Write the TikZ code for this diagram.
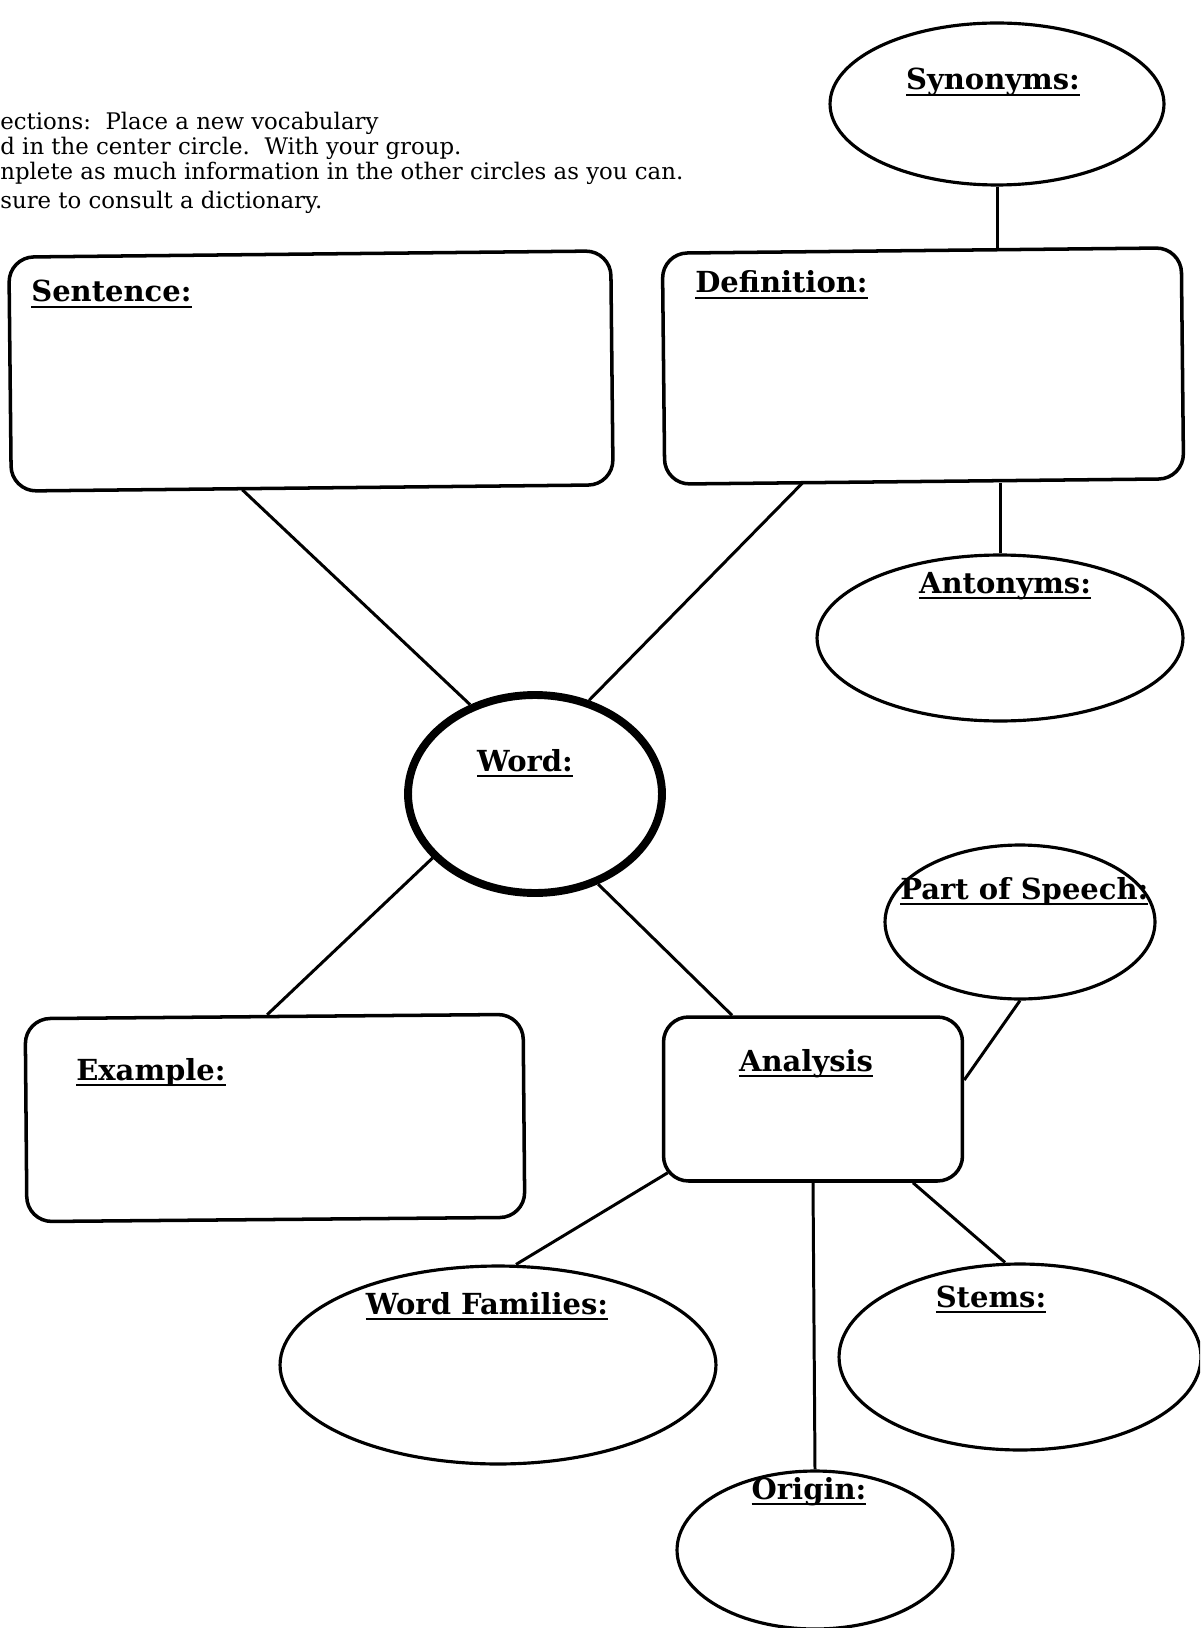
\documentclass[tikz,border=0pt]{standalone}
\usepackage{fontspec}
\setmainfont{DejaVu Serif}
\usetikzlibrary{shapes.geometric,calc}
\newlength\ulw
\newcommand\lab[1]{\settowidth\ulw{#1}\rlap{\rule[-3.6pt]{\ulw}{1.3pt}}#1}
\tikzset{
 bubble/.style={ellipse, draw, line width=1.8pt, inner sep=0pt},
 card/.style={rectangle, draw, line width=2pt, rounded corners=0.5cm, inner sep=0pt},
 link/.style={line width=1.7pt},
 lbl/.style={inner sep=0pt, font=\bfseries\fontsize{16.5}{18}\selectfont, anchor=base},
 instr/.style={inner sep=0pt, anchor=base west, font=\fontsize{13}{15}\selectfont}
}
\begin{document}
\begin{tikzpicture}[x=0.02cm,y=-0.02cm]
\useasboundingbox (0,0) rectangle (1200,1628);
\fill[white] (0,0) rectangle (1200,1628);
\clip (0,0) rectangle (1200,1628);

% instructions
\node[instr] (i1) at (0,130) {ections:\ \ Place a new vocabulary};
\node[instr] (i2) at (0,155) {d in the center circle.\ \ With your group.};
\node[instr] (i3) at (0,180) {nplete as much information in the other circles as you can.};
\node[instr] (i4) at (0,209) {sure to consult a dictionary.};

% shapes
\node[bubble, minimum width=6.68cm, minimum height=3.24cm] (syn) at (997,104) {};
\node[card, rotate=0.6, minimum width=12.04cm, minimum height=4.68cm] (sent) at (311,371) {};
\node[card, rotate=0.6, minimum width=10.38cm, minimum height=4.62cm] (def) at (923,366) {};
\node[bubble, minimum width=7.32cm, minimum height=3.32cm] (ant) at (1000,638) {};
\node[bubble, line width=4.5pt, minimum width=5.08cm, minimum height=3.96cm] (word) at (535,794) {};
\node[bubble, minimum width=5.4cm, minimum height=3.08cm] (pos) at (1020,922) {};
\node[card, rotate=0.5, minimum width=9.96cm, minimum height=4.06cm] (ex) at (275,1118) {};
\node[card, minimum width=5.98cm, minimum height=3.28cm] (ana) at (813,1099) {};
\node[bubble, minimum width=8.72cm, minimum height=3.96cm] (wf) at (498,1365) {};
\node[bubble, minimum width=7.24cm, minimum height=3.72cm] (stems) at (1020,1357) {};
\node[bubble, minimum width=5.52cm, minimum height=3.16cm] (orig) at (815,1550) {};

% labels
\node[lbl] (tsyn) at (993,90) {\lab{Synonyms:}};
\node[lbl, anchor=base west] (tsent) at (31,302) {\lab{Sentence:}};
\node[lbl, anchor=base west] (tdef) at (695,293) {\lab{Definition:}};
\node[lbl] (tant) at (1005,593) {\lab{Antonyms:}};
\node[lbl] (tword) at (525,771) {\lab{Word:}};
\node[lbl, anchor=base west] (tpos) at (900,899) {\lab{Part of Speech:}};
\node[lbl, anchor=base west] (tex) at (76,1080) {\lab{Example:}};
\node[lbl] (tana) at (806,1071) {\lab{Analysis}};
\node[lbl] (twf) at (487,1314) {\lab{Word Families:}};
\node[lbl] (tstems) at (991,1307) {\lab{Stems:}};
\node[lbl] (torig) at (809,1499) {\lab{Origin:}};

% connectors
\draw[link] (syn.south) -- (syn.south |- def.north);
\draw[link] (ant.north) -- (ant.north |- def.south);
\draw[link] ([xshift=-1.4cm]sent.south) -- (word.126);
\draw[link] ([xshift=-2.44cm]def.south) -- (word.60.5);
\draw[link] (word.212) -- ([xshift=-0.14cm]ex.north);
\draw[link] (word.305.8) -- ([xshift=-1.62cm]ana.north);
\draw[link] ([yshift=0.38cm]ana.east) -- (pos.south);
\draw[link] ([xshift=0.12cm,yshift=0.2cm]ana.south west) -- ([xshift=0.36cm]wf.north);
\draw[link] (ana.south) -- (orig.north);
\draw[link] ([xshift=2cm]ana.south) -- ([xshift=-0.3cm]stems.north);
\end{tikzpicture}
\end{document}
